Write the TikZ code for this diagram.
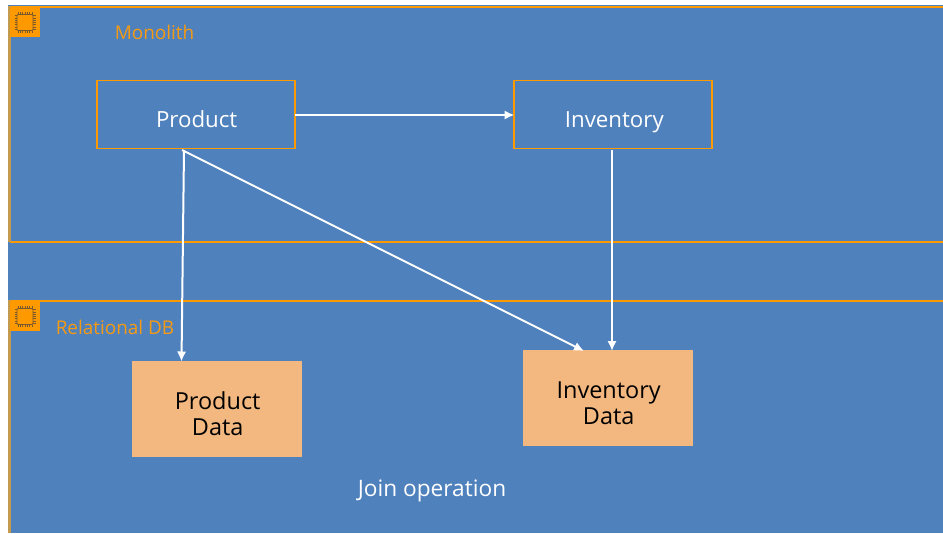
\documentclass[tikz,border=0pt]{standalone}
\usepackage{fontspec}
\setmainfont{Open Sans}
\usetikzlibrary{arrows.meta}
\definecolor{bluebg}{HTML}{4F81BD}
\definecolor{awsorange}{HTML}{FF9900}
\definecolor{grouptext}{HTML}{F59A12}
\definecolor{peach}{HTML}{F2B880}
\definecolor{chip}{HTML}{7A5A2A}
\definecolor{tan}{HTML}{C49A4E}
\newcommand{\twolines}[2]{\smash{\raisebox{-10.7pt}{\hspace{1pt}\begin{tabular}{@{}c@{}}#1\\#2\end{tabular}}}}
\newcommand{\svctext}[1]{\smash{\raisebox{-10.1pt}{#1}}}
\tikzset{
  every node/.style={inner sep=0pt,outer sep=0pt},
  svc/.style={draw=awsorange,line width=0.8pt,text=white,font=\fontsize{16.7}{20}\selectfont},
  datab/.style={fill=peach,text=black,align=center,font=\fontsize{17.6}{19.2}\selectfont},
  grp/.style={text=grouptext,font=\fontsize{14.2}{17}\selectfont},
  plain/.style={text=white,font=\fontsize{17}{20}\selectfont},
  flow/.style={draw=white,line width=1.5pt,-{Latex[length=7.5pt,width=7pt]}},
  edge line/.style={draw=awsorange,line width=1.5pt},
  chipbody/.style={draw=chip,line width=0.7pt,fill=awsorange,rounded corners=0.7pt}
}
\begin{document}
\begin{tikzpicture}[x=0.75pt,y=-0.75pt]
\useasboundingbox (0,0) rectangle (943,533);
\fill[white] (0,0) rectangle (943,533);
\fill[bluebg] (8,5) rectangle (943,533);
% group borders
\draw[edge line] (9,6.5) -- (943,6.5);
\draw[edge line] (9.5,242) -- (943,242);
\draw[edge line] (9,300.5) -- (943,300.5);
\draw[draw=tan,line width=1.8pt] (9.5,6) -- (9.5,242);
\draw[draw=tan,line width=1.8pt] (9.5,300) -- (9.5,533);
% chip badges
\foreach \by in {7,301}{
  \fill[awsorange] (10,\by) rectangle (40,\by+30);
  \draw[chipbody] (17,\by+7.5) rectangle (33,\by+23.5);
  \foreach \t in {0,...,6}{
    \draw[chip,line width=0.4pt] (18+2.3*\t,\by+5) -- (18+2.3*\t,\by+7.5);
    \draw[chip,line width=0.4pt] (18+2.3*\t,\by+23.5) -- (18+2.3*\t,\by+26);
    \draw[chip,line width=0.4pt] (14.5,\by+8.5+2.3*\t) -- (17,\by+8.5+2.3*\t);
    \draw[chip,line width=0.4pt] (33,\by+8.5+2.3*\t) -- (35.5,\by+8.5+2.3*\t);
  }
}
\node[grp] (mono) at (154.5,32) {Monolith};
\node[grp] (rdb) at (115,327) {Relational DB};
% boxes
\node[svc,minimum width=148.5pt,minimum height=51.4pt] (product) at (196,114.4) {\svctext{\hspace{1pt}Product}};
\node[svc,minimum width=148.5pt,minimum height=51.4pt] (inventory) at (613,114.4) {\svctext{\hspace{2pt}Inventory}};
\node[datab,minimum width=127.5pt,minimum height=72pt] (pdata) at (217,409) {\twolines{Product}{Data}};
\node[datab,minimum width=127.5pt,minimum height=72pt] (idata) at (608,398) {\twolines{Inventory}{Data}};
\node[plain] (join) at (432,491) {Join operation};
% connectors
\coordinate (pout) at (295,115);
\coordinate (iin) at (514.5,115);
\coordinate (pb1) at (184,150);
\coordinate (pb2) at (182,150);
\coordinate (pin) at (181.5,361.5);
\coordinate (ib) at (612,150);
\coordinate (iin2) at (612,351);
\coordinate (iin3) at (584,351);
\draw[flow] (pout) -- (iin);
\draw[flow] (pb1) -- (pin);
\draw[flow] (pb2) -- (iin3);
\draw[flow] (ib) -- (iin2);
\end{tikzpicture}
\end{document}
